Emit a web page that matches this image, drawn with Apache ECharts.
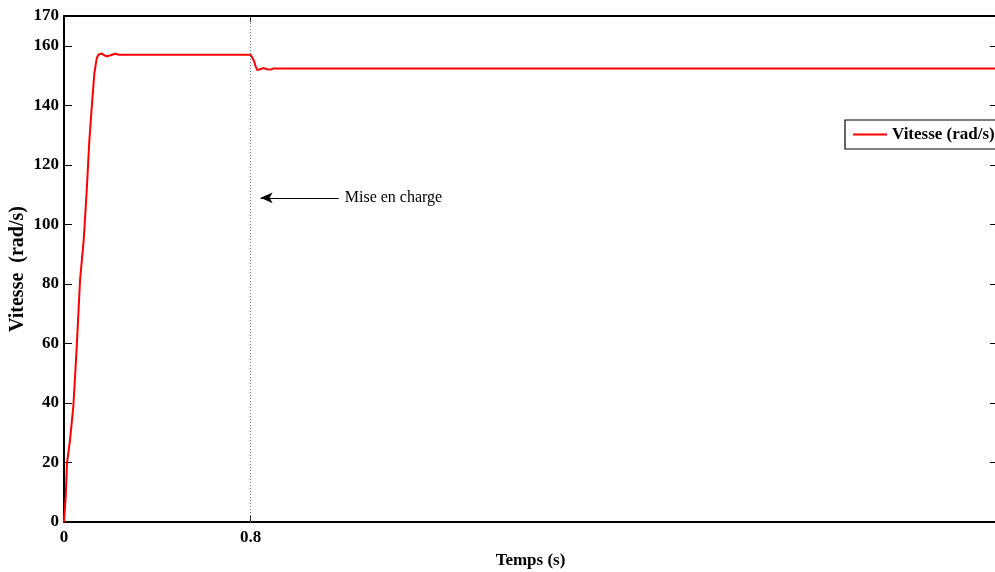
<!DOCTYPE html>
<html>
<head>
<meta charset="utf-8">
<script src="https://cdn.jsdelivr.net/npm/echarts@6/dist/echarts.min.js"></script>
<style>html,body{margin:0;padding:0;background:#fff;}#c{width:995px;height:572px;}</style>
</head>
<body>
<div id="c"></div>
<script>
var time = [0, 0.0073, 0.0129, 0.0185, 0.0258, 0.040, 0.0546, 0.0688, 0.0847, 0.0976, 0.1088, 0.1191, 0.1303, 0.1406, 0.1475, 0.162, 0.172, 0.184, 0.200, 0.219, 0.235, 0.30, 0.50, 0.80, 0.806, 0.814, 0.822, 0.829, 0.836, 0.843, 0.857, 0.870, 0.886, 0.90, 1.5, 2.5, 4.0];
var speed = [0, 8.5, 19.8, 23.1, 27.6, 38.8, 58.9, 81.3, 95, 111.6, 128.4, 139.6, 150.8, 155.9, 157, 157.4, 156.8, 156.5, 156.8, 157.3, 157.0, 157.0, 157.0, 157.0, 156.6, 155, 153, 151.8, 151.7, 152.2, 152.5, 152.1, 152.0, 152.4, 152.4, 152.4, 152.4];
var xTickLabels = [0, 0.8];
var yTickLabels = [0, 20, 40, 60, 80, 100, 120, 140, 160, 170];
var yTicks = [0, 20, 40, 60, 80, 100, 120, 140, 160];
var seriesName = 'Vitesse (rad/s)';
var loadTime = 0.8;
var annotationText = 'Mise en charge';
var arrowFrom = [1.178, 108.9];
var arrowTo = [0.843, 108.9];

var pts = time.map(function (t, i) { return [t, speed[i]]; });
var font = 'Liberation Serif';
var chart = echarts.init(document.getElementById('c'), null, {renderer: 'canvas'});
chart.setOption({
  animation: false,
  backgroundColor: '#fff',
  grid: {left: 64, top: 16, right: -2, bottom: 50, containLabel: false, outerBoundsMode: 'none'},
  legend: {
    data: [seriesName], left: 845, top: 120, orient: 'vertical',
    backgroundColor: '#fff', borderColor: '#000', borderWidth: 1.2,
    padding: [6, 12, 6, 8], itemWidth: 34, itemHeight: 2, itemGap: 0,
    textStyle: {fontFamily: font, fontWeight: 'bold', fontSize: 17, color: '#000'},
    icon: 'rect'
  },
  xAxis: [{
    type: 'value', min: 0, max: 4, position: 'bottom',
    name: 'Temps (s)', nameLocation: 'middle', nameGap: 30, nameMoveOverlap: false,
    nameTextStyle: {fontFamily: font, fontWeight: 'bold', fontSize: 17, color: '#000'},
    axisLine: {onZero: false, lineStyle: {color: '#000', width: 2}},
    axisTick: {inside: true, length: 6, lineStyle: {color: '#000'}, customValues: [0.8]},
    axisLabel: {customValues: xTickLabels, margin: 7, fontFamily: font, fontWeight: 'bold', fontSize: 17, color: '#000',
      formatter: function (v) { return String(v); }},
    splitLine: {show: false}
  }, {
    type: 'value', min: 0, max: 4, position: 'top',
    axisLine: {onZero: false, lineStyle: {color: '#000', width: 2}},
    axisTick: {inside: true, length: 6, lineStyle: {color: '#000'}, customValues: [0.8]},
    axisLabel: {show: false}, splitLine: {show: false}
  }],
  yAxis: [{
    type: 'value', min: 0, max: 170, position: 'left',
    name: 'Vitesse  (rad/s)', nameLocation: 'middle', nameGap: 36, nameMoveOverlap: false,
    nameTextStyle: {fontFamily: font, fontWeight: 'bold', fontSize: 20, color: '#000'},
    axisLine: {onZero: false, lineStyle: {color: '#000', width: 2}},
    axisTick: {inside: true, length: 8, lineStyle: {color: '#000'}, customValues: yTicks},
    axisLabel: {customValues: yTickLabels, margin: 5, fontFamily: font, fontWeight: 'bold', fontSize: 17, color: '#000'},
    splitLine: {show: false}
  }, {
    type: 'value', min: 0, max: 170, position: 'right',
    axisLine: {show: true, onZero: false, lineStyle: {color: '#000', width: 1}},
    axisTick: {show: true, inside: true, length: 7, lineStyle: {color: '#000'}, customValues: yTicks.concat([170])},
    axisLabel: {show: false}, splitLine: {show: false}
  }],
  series: [{
    name: seriesName, type: 'line', data: pts, showSymbol: false, symbol: 'none',
    lineStyle: {color: '#ff0000', width: 2}, itemStyle: {color: '#ff0000'},
    markLine: {
      silent: true, animation: false,
      data: [
        [{coord: [loadTime, 0], symbol: 'none', lineStyle: {color: '#777', type: [1, 2], width: 1}, label: {show: false}},
         {coord: [loadTime, 170], symbol: 'none'}],
        [{coord: arrowFrom, symbol: 'none', lineStyle: {color: '#000', type: 'solid', width: 1},
          label: {show: true, position: 'start', formatter: annotationText, distance: 6,
            fontFamily: font, fontSize: 16, color: '#000'}},
         {coord: arrowTo, symbol: 'arrow', symbolSize: [8, 12]}]
      ]
    }
  }]
});
</script>
</body>
</html>
